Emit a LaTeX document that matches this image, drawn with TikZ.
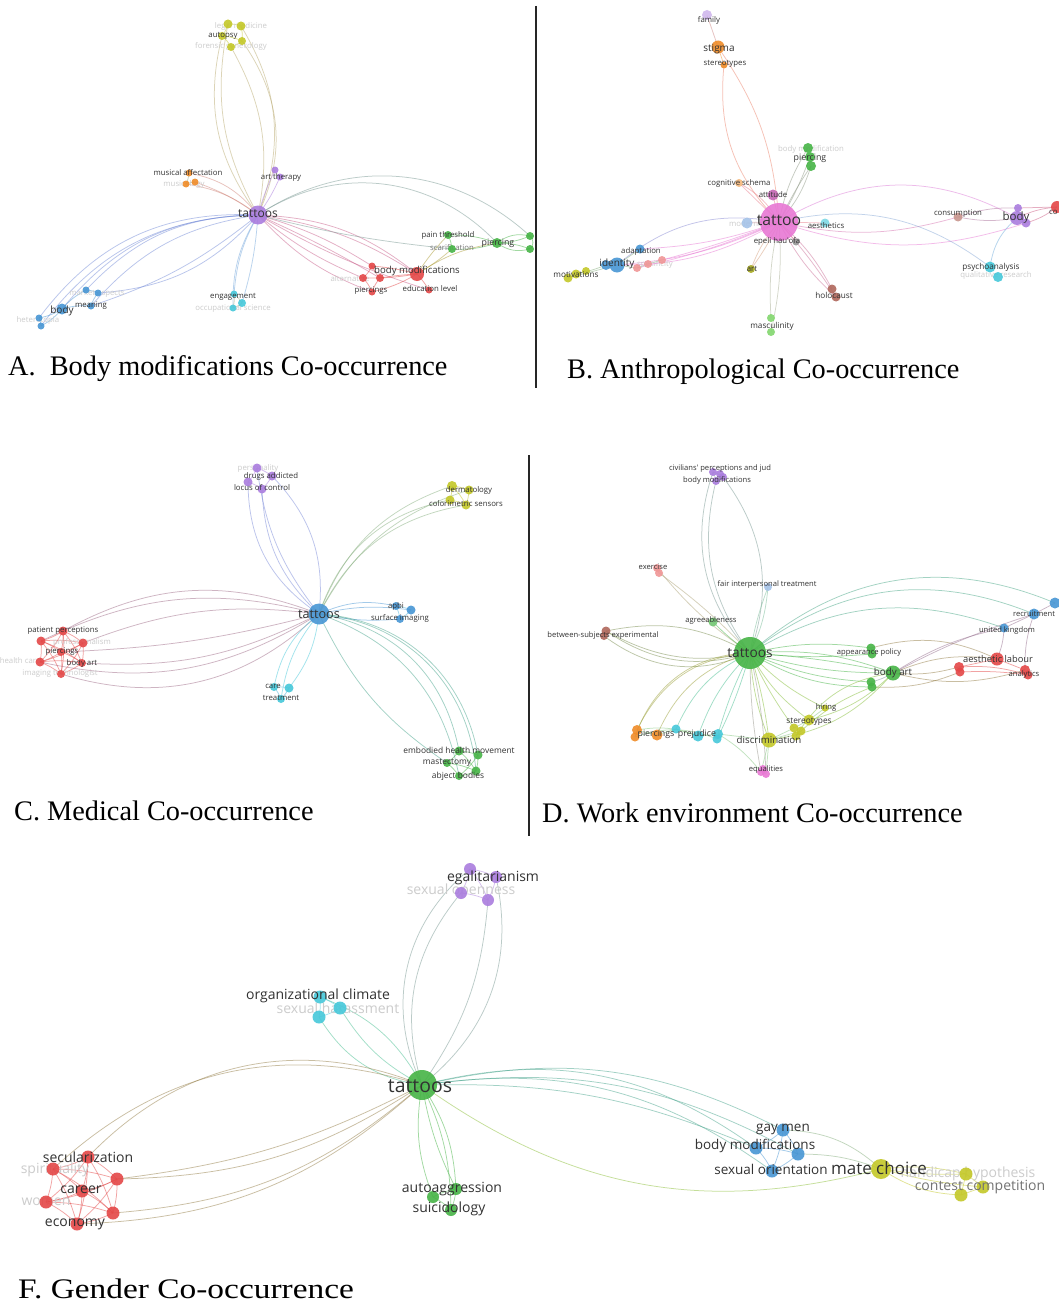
\documentclass[tikz,border=0pt]{standalone}
\usepackage{fontspec}
\setmainfont{Liberation Serif}
\newfontfamily\osans{Open Sans}
\usetikzlibrary{backgrounds}
\definecolor{vred}{RGB}{228,72,72}
\definecolor{vgreen}{RGB}{70,180,70}
\definecolor{vblue}{RGB}{72,150,212}
\definecolor{volive}{RGB}{196,200,40}
\definecolor{vpurple}{RGB}{170,125,222}
\definecolor{vcyan}{RGB}{70,200,218}
\definecolor{vorange}{RGB}{240,140,40}
\definecolor{vbrown}{RGB}{176,104,92}
\definecolor{vpink}{RGB}{232,120,212}
\definecolor{vsalmon}{RGB}{240,150,150}
\definecolor{vlblue}{RGB}{165,195,232}
\definecolor{vlgreen}{RGB}{130,215,110}
\definecolor{vgray}{RGB}{150,150,150}
\definecolor{labc}{RGB}{50,50,50}
\tikzset{
 bub/.style={circle,inner sep=0pt,draw=none,fill opacity=0.9},
 lab/.style={text=labc,inner sep=0pt},
 lgt/.style={text=black!20,inner sep=0pt},
 lmd/.style={text=black!55,inner sep=0pt},
 cedge/.style={line width=0.75pt,draw opacity=0.5},
 captxt/.style={anchor=base west,inner sep=0pt,font=\fontsize{28.3}{32}\selectfont},
 divider/.style={line width=1.4pt,black!85}
}
\newcommand\kwn[4]{\node[bub,fill=#3,minimum size=#4pt] (#1) at (#2) {};}
\newcommand\kwl[4][7.8]{\node[lab,font={\osans\fontsize{#1}{#1}\selectfont}] (#2) at (#3) {#4};}
\newcommand\kwg[4][7.8]{\node[lgt,font={\osans\fontsize{#1}{#1}\selectfont}] (#2) at (#3) {#4};}
\newcommand\kwm[4][7.8]{\node[lmd,font={\osans\fontsize{#1}{#1}\selectfont}] (#2) at (#3) {#4};}
\newcommand\kwe[4]{\draw[cedge,#4] (#1.center) to[bend left=#3] (#2.center);}
\begin{document}
\begin{tikzpicture}[x=1pt,y=-1pt]
\useasboundingbox (0,0) rectangle (1058,1311);
% ================= light labels (under bubbles) =================
\kwg{LyA1}{241,26}{legal medicine}
\kwg{LyA3}{231,46}{forensic gynecology}
\kwg{LoA2}{184,184}{musicology}
\kwg{LbA3}{97,293}{market aspects}
\kwg{LbA4}{38,320}{heterotopia}
\kwg{LcA2}{233,308}{occupational science}
\kwg{LrA7}{350,279}{alternative}
\kwm{LgA2}{452,248}{scarification}
\kwg{LgB1}{811,149}{body modification}
\kwg{LmB}{748,224}{modernity}
\kwg{LspB}{655,264}{specificity}
\kwg{LpsB2}{996,275}{qualitative research}
\kwg{LpC1}{258,468}{personality}
\kwg{LrC3}{82,642}{professionalism}
\kwg{LrC5}{20,661}{health care}
\kwg{LrC7}{60,673}{imaging technologist}
\kwg[14]{LpF3}{461,891}{sexual openness}
\kwg[14]{LcF2}{338,1008}{sexual harassment}
\kwg[14]{LrF2}{55,1170}{spirituality}
\kwg[14]{LrF5}{46,1202}{women}
\kwg[14]{LyF2}{968,1174}{handicap hypothesis}
% ================= Panel A bubbles =================
\kwn{tA}{258,215}{vpurple}{19}
\kwn{yA1}{228,24}{volive}{9}
\kwn{yA2}{241,26}{volive}{9}
\kwn{yA3}{222,36}{volive}{8}
\kwn{yA4}{242,41}{volive}{8}
\kwn{yA5}{231,47}{volive}{8}
\kwn{oA1}{189,173}{vorange}{7}
\kwn{oA2}{186,184}{vorange}{7}
\kwn{oA3}{195,182}{vorange}{7}
\kwn{pA1}{275,170}{vpurple}{7}
\kwn{pA2}{280,177}{vpurple}{7}
\kwn{bA1}{62,309}{vblue}{11}
\kwn{bA2}{91,306}{vblue}{7}
\kwn{bA3}{86,290}{vblue}{7}
\kwn{bA4}{98,293}{vblue}{7}
\kwn{bA5}{39,318}{vblue}{7}
\kwn{bA6}{41,326}{vblue}{7}
\kwn{cA1}{234,294}{vcyan}{7}
\kwn{cA2}{242,303}{vcyan}{8}
\kwn{cA3}{233,308}{vcyan}{7}
\kwn{rA1}{372,266}{vred}{7}
\kwn{rA2}{363,278}{vred}{8}
\kwn{rA3}{380,278}{vred}{8}
\kwn{rA4}{372,292}{vred}{7}
\kwn{rA5}{417,274}{vred}{14}
\kwn{rA6}{429,290}{vred}{7}
\kwn{gA1}{448,235}{vgreen}{8}
\kwn{gA2}{452,249}{vgreen}{8}
\kwn{gA3}{497,243}{vgreen}{10}
\kwn{gA4}{530,236}{vgreen}{8}
\kwn{gA5}{530,249}{vgreen}{8}
% ================= Panel B bubbles =================
\kwn{tB}{779,222}{vpink}{38}
\kwn{fB}{707,15}{vpurple!55}{10}
\kwn{sB1}{718,47}{vorange}{13}
\kwn{sB2}{724,65}{vorange}{7}
\kwn{gB1}{808,148}{vgreen}{10}
\kwn{gB2}{810,157}{vgreen}{10}
\kwn{gB3}{811,166}{vgreen}{10}
\kwn{cB}{739,183}{vorange!60}{8}
\kwn{aB}{773,195}{vpink!85!black}{11}
\kwn{eB}{825,223}{vcyan!70}{9}
\kwn{mB}{747,223}{vlblue}{11}
\kwn{hB}{796,242}{vgray}{7}
\kwn{adB}{640,249}{vblue}{9}
\kwn{iB2}{606,265}{vblue}{10}
\kwn{iB1}{617,265}{vblue}{15}
\kwn{spB1}{637,268}{vsalmon}{8}
\kwn{spB2}{648,264}{vsalmon}{8}
\kwn{spB3}{662,260}{vsalmon}{8}
\kwn{moB1}{568,278}{volive}{9}
\kwn{moB2}{576,274}{volive}{9}
\kwn{moB3}{586,271}{volive}{8}
\kwn{arB}{751,269}{volive!85!black}{8}
\kwn{hoB1}{832,289}{vbrown}{9}
\kwn{hoB2}{836,297}{vbrown}{9}
\kwn{maB1}{771,318}{vlgreen}{8}
\kwn{maB2}{771,332}{vlgreen}{8}
\kwn{coB}{958,217}{vbrown!70}{9}
\kwn{boB1}{1017,218}{vpurple}{14}
\kwn{boB2}{1018,208}{vpurple}{8}
\kwn{boB3}{1026,223}{vpurple}{9}
\kwn{rdB}{1057,207}{vred}{12}
\kwn{psB1}{990,267}{vcyan}{11}
\kwn{psB2}{998,277}{vcyan}{10}
% ================= Panel C bubbles =================
\kwn{tC}{319,614}{vblue}{21}
\kwn{pC1}{257,468}{vpurple}{9}
\kwn{pC2}{272,476}{vpurple}{9}
\kwn{pC3}{248,482}{vpurple}{9}
\kwn{pC4}{262,489}{vpurple}{9}
\kwn{yC1}{452,486}{volive}{10}
\kwn{yC2}{469,490}{volive}{9}
\kwn{yC3}{450,500}{volive}{9}
\kwn{yC4}{466,505}{volive}{9}
\kwn{bC1}{396,606}{vblue}{8}
\kwn{bC2}{411,610}{vblue}{9}
\kwn{bC3}{400,619}{vblue}{8}
\kwn{rC1}{63,631}{vred}{9}
\kwn{rC2}{41,641}{vred}{9}
\kwn{rC3}{83,643}{vred}{9}
\kwn{rC4}{61,652}{vred}{8}
\kwn{rC5}{40,662}{vred}{9}
\kwn{rC6}{82,663}{vred}{8}
\kwn{rC7}{61,674}{vred}{8}
\kwn{cC1}{274,687}{vcyan}{8}
\kwn{cC2}{289,688}{vcyan}{9}
\kwn{cC3}{281,699}{vcyan}{8}
\kwn{gC1}{459,751}{vgreen}{9}
\kwn{gC2}{478,755}{vgreen}{9}
\kwn{gC3}{447,763}{vgreen}{8}
\kwn{gC4}{476,771}{vgreen}{9}
\kwn{gC5}{459,776}{vgreen}{8}
% ================= Panel D bubbles =================
\kwn{tD}{750,653}{vgreen}{32}
\kwn{pD1}{713,472}{vpurple}{8}
\kwn{pD2}{723,477}{vpurple}{8}
\kwn{pD3}{716,481}{vpurple}{8}
\kwn{pD4}{720,474}{vpurple}{8}
\kwn{exD1}{657,568}{vsalmon}{8}
\kwn{exD2}{659,573}{vsalmon}{8}
\kwn{fD}{768,587}{vlblue}{8}
\kwn{agD}{713,622}{vgreen!75}{9}
\kwn{btD1}{606,631}{vbrown}{9}
\kwn{btD2}{604,636}{vbrown}{8}
\kwn{apD1}{871,648}{vgreen}{9}
\kwn{apD2}{872,654}{vgreen}{9}
\kwn{baD2}{871,682}{vgreen}{9}
\kwn{baD3}{872,687}{vgreen}{9}
\kwn{baD}{893,673}{vgreen}{15}
\kwn{reD1}{1034,614}{vblue}{11}
\kwn{reD2}{1055,603}{vblue}{11}
\kwn{ukD}{1004,628}{vblue}{9}
\kwn{alD2}{959,667}{vred}{10}
\kwn{alD3}{960,672}{vred}{9}
\kwn{alD1}{997,659}{vred}{13}
\kwn{anD1}{1025,670}{vred}{10}
\kwn{anD2}{1028,675}{vred}{9}
\kwn{hiD}{825,708}{volive}{7}
\kwn{stD1}{809,720}{volive}{11}
\kwn{stD2}{794,728}{volive}{9}
\kwn{stD3}{801,731}{volive}{9}
\kwn{stD4}{796,736}{volive}{9}
\kwn{diD}{769,740}{volive}{15}
\kwn{eqD1}{761,772}{vpink}{8}
\kwn{eqD2}{766,774}{vpink}{8}
\kwn{eqD3}{763,769}{vpink}{8}
\kwn{piD1}{637,730}{vorange}{10}
\kwn{piD3}{635,737}{vorange}{9}
\kwn{piD2}{657,735}{vorange}{11}
\kwn{prD1}{676,729}{vcyan}{9}
\kwn{prD2}{698,736}{vcyan}{11}
\kwn{prD3}{718,734}{vcyan}{10}
\kwn{prD4}{717,739}{vcyan}{9}
% ================= Panel F bubbles =================
\kwn{tF}{422,1085}{vgreen}{30}
\kwn{pF1}{470,869}{vpurple}{12}
\kwn{pF2}{496,877}{vpurple}{12}
\kwn{pF3}{461,893}{vpurple}{12}
\kwn{pF4}{488,900}{vpurple}{12}
\kwn{cF1}{320,997}{vcyan}{13}
\kwn{cF2}{340,1008}{vcyan}{13}
\kwn{cF3}{319,1017}{vcyan}{13}
\kwn{rF1}{88,1157}{vred}{13}
\kwn{rF2}{53,1169}{vred}{13}
\kwn{rF3}{117,1179}{vred}{13}
\kwn{rF4}{82,1191}{vred}{13}
\kwn{rF5}{46,1202}{vred}{13}
\kwn{rF6}{113,1213}{vred}{13}
\kwn{rF7}{77,1224}{vred}{13}
\kwn{gF1}{433,1197}{vgreen}{12}
\kwn{gF2}{456,1189}{vgreen}{12}
\kwn{gF3}{451,1210}{vgreen}{12}
\kwn{bF1}{783,1130}{vblue}{13}
\kwn{bF2}{756,1148}{vblue}{13}
\kwn{bF3}{798,1154}{vblue}{13}
\kwn{bF4}{772,1171}{vblue}{13}
\kwn{yF1}{881,1169}{volive}{20}
\kwn{yF2}{966,1174}{volive}{13}
\kwn{yF3}{983,1187}{volive}{13}
\kwn{yF4}{961,1195}{volive}{13}
% ================= dark labels =================
% A
\kwl[12]{LtA}{258,214}{tattoos}
\kwl{LyA2}{223,36}{autopsy}
\kwl{LoA1}{188,173}{musical affectation}
\kwl{LpA}{281,177}{art therapy}
\kwl[10]{LbA1}{62,311}{body}
\kwl{LbA2}{91,306}{meaning}
\kwl{LcA1}{233,297}{engagement}
\kwl[9.6]{LrA5}{417,271}{body modifications}
\kwl{LrA4}{371,291}{piercings}
\kwl{LrA6}{430,289}{education level}
\kwl{LgA1}{448,235}{pain threshold}
\kwl[8.8]{LgA3}{498,243}{piercing}
% B
\kwl[15.7]{LtB}{779,220}{tattoo}
\kwl{LfB}{709,20}{family}
\kwl[10]{LsB1}{719,49}{stigma}
\kwl{LsB2}{725,64}{stereotypes}
\kwl[8.8]{LgB2}{810,158}{piercing}
\kwl{LcB}{739,183}{cognitive schema}
\kwl{LaB}{773,195}{attitude}
\kwl{LeB}{826,226}{aesthetics}
\kwl{LhB}{777,241}{epeli hau'ofa}
\kwl{LadB}{641,251}{adaptation}
\kwl[10]{LiB}{617,264}{identity}
\kwl[8.2]{LmoB}{576,275}{motivations}
\kwl{LarB}{752,269}{art}
\kwl[8.2]{LhoB}{834,295}{holocaust}
\kwl[8.2]{LmaB}{772,326}{masculinity}
\kwl{LcoB}{958,214}{consumption}
\kwl[11.5]{LboB}{1016,218}{body}
\node[lab,anchor=west,font={\osans\fontsize{7.8}{7.8}\selectfont}] (LrdB) at (1049,212) {co};
\kwl[8.2]{LpsB}{991,267}{psychoanalysis}
% C
\kwl[12.7]{LtC}{319,614}{tattoos}
\kwl{LpC2}{271,476}{drugs addicted}
\kwl{LpC4}{262,488}{locus of control}
\kwl{LyC1}{469,490}{dermatology}
\kwl{LyC3}{466,504}{colorimetric sensors}
\kwl{LbC1}{396,606}{apbi}
\kwl{LbC3}{400,618}{surface imaging}
\kwl{LrC1}{63,631}{patient perceptions}
\kwl{LrC4}{62,652}{piercings}
\kwl{LrC6}{82,663}{body art}
\kwl{LcC1}{273,686}{care}
\kwl{LcC3}{281,698}{treatment}
\kwl[8.4]{LgC1}{459,750}{embodied health movement}
\kwl[8.4]{LgC3}{447,763}{mastectomy}
\kwl[8.4]{LgC5}{458,776}{abject bodies}
% D
\kwl[13.7]{LtD}{750,653}{tattoos}
\kwl[7.6]{LpD1}{720,469}{civilians' perceptions and jud}
\kwl[7.6]{LpD3}{717,481}{body modifications}
\kwl[7.6]{LexD}{653,567}{exercise}
\kwl[7.6]{LfD}{767,584}{fair interpersonal treatment}
\kwl[7.6]{LagD}{711,621}{agreeableness}
\kwl[7.6]{LbtD}{603,636}{between-subjects experimental}
\kwl[7.6]{LapD}{869,653}{appearance policy}
\kwl[9.8]{LbaD}{893,673}{body art}
\kwl[7.6]{LreD}{1034,614}{recruitment}
\kwl[7.6]{LukD}{1007,631}{united kingdom}
\kwl[9.3]{LalD}{998,659}{aesthetic labour}
\kwl[7.6]{LanD}{1024,675}{analytics}
\kwl[7.6]{LhiD}{826,708}{hiring}
\kwl[8.3]{LstD}{809,722}{stereotypes}
\kwl[9.7]{LdiD}{769,740}{discrimination}
\kwl[7.6]{LeqD}{766,770}{equalities}
\kwl[8.8]{LpiD}{656,734}{piercings}
\kwl[8.8]{LprD}{697,734}{prejudice}
% F
\kwl[19.4]{LtF}{420,1086}{tattoos}
\kwl[14]{LpF}{493,878}{egalitarianism}
\kwl[14]{LcF}{318,996}{organizational climate}
\kwl[14]{LrF1}{88,1157}{secularization}
\kwl[14]{LrF4}{81,1190}{career}
\kwl[14]{LrF7}{75,1224}{economy}
\kwl[14]{LgF2}{452,1189}{autoaggression}
\kwl[14]{LgF3}{449,1209}{suicidology}
\kwl[13.5]{LbF1}{783,1129}{gay men}
\kwl[13.5]{LbF2}{755,1146}{body modifications}
\kwl[13.5]{LbF4}{771,1169}{sexual orientation}
\kwl[17]{LyF1}{879,1168}{mate choice}
\kwm[14]{LyF3}{980,1187}{contest competition}
% ================= captions and dividers =================
\node[captxt] (capA) at (8,375) {A.\ \ Body modifications Co-occurrence};
\node[captxt] (capB) at (567,378) {B. Anthropological Co-occurrence};
\node[captxt] (capC) at (14,820) {C. Medical Co-occurrence};
\node[captxt] (capD) at (542,822) {D. Work environment Co-occurrence};
\node[captxt] (capF) at (18,1298) {\scalebox{1.18}[1]{F. Gender Co-occurrence}};
\coordinate (dAt) at (536,6); \coordinate (dAb) at (536,388);
\coordinate (dCt) at (529,455); \coordinate (dCb) at (529,836);
\draw[divider] (dAt) -- (dAb);
\draw[divider] (dCt) -- (dCb);
% ================= connectors =================
\begin{pgfonlayer}{background}
\fill[white] (0,0) rectangle (1058,1311);
% ---- A
\foreach \n/\b in {yA3/25,yA1/20,yA5/-20,yA2/-26,yA4/-30}{\kwe{tA}{\n}{\b}{volive!60!vpurple}}
\foreach \n/\b in {oA1/-20,oA2/-14,oA3/-8}{\kwe{tA}{\n}{\b}{vorange!55!vpurple}}
\foreach \n/\b in {pA1/5,pA2/-6}{\kwe{tA}{\n}{\b}{vpurple}}
\foreach \n/\b in {bA1/-25,bA2/-20,bA3/-23,bA5/-28,bA6/-26,bA4/22,bA2/10}{\kwe{tA}{\n}{\b}{vblue!55!vpurple}}
\foreach \n/\b in {cA1/-12,cA3/-16,cA2/6}{\kwe{tA}{\n}{\b}{vcyan!55!vpurple}}
\foreach \n/\b in {rA5/12,rA5/18,rA1/8,rA2/-8,rA4/-13,rA3/3,rA6/-6}{\kwe{tA}{\n}{\b}{vred!55!vpurple}}
\foreach \n/\b in {gA3/40,gA4/38,gA2/-4}{\kwe{tA}{\n}{\b}{vgreen!50!vpurple}}
\foreach \a/\b/\c in {gA1/gA3/10,gA2/gA3/-10,gA3/gA4/25,gA3/gA5/-25,gA4/gA5/50,gA1/gA2/10,gA3/gA4/-10,gA3/gA5/10}{\kwe{\a}{\b}{\c}{vgreen}}
\foreach \a/\b/\c in {rA5/gA1/5,rA5/gA2/-5,rA5/gA3/12}{\kwe{\a}{\b}{\c}{vorange!60!vgreen}}
\foreach \a/\b/\c in {rA1/rA5/5,rA2/rA5/-5,rA3/rA5/3,rA4/rA5/-8,rA5/rA6/5,rA1/rA2/10,rA2/rA4/10,rA3/rA4/-10,rA1/rA3/-10}{\kwe{\a}{\b}{\c}{vred}}
\foreach \a/\b/\c in {yA1/yA2/10,yA3/yA4/10,yA1/yA3/10,yA2/yA4/10,yA4/yA5/10,yA3/yA5/10}{\kwe{\a}{\b}{\c}{volive}}
\foreach \a/\b/\c in {bA1/bA2/10,bA1/bA3/10,bA2/bA4/10,bA1/bA5/10,bA5/bA6/10,bA1/bA6/10,bA3/bA4/10}{\kwe{\a}{\b}{\c}{vblue}}
\foreach \a/\b/\c in {cA1/cA2/10,cA2/cA3/10,cA1/cA3/10,oA1/oA2/10,oA2/oA3/10}{\kwe{\a}{\b}{\c}{vcyan!50!vorange}}
% ---- B
\kwe{tB}{sB2}{25}{vorange!60!vpink}
\kwe{tB}{sB1}{-15}{vorange!60!vpink}
\kwe{sB1}{fB}{0}{vorange!50!vpurple}
\kwe{sB1}{sB2}{0}{vorange}
\foreach \n/\b in {gB1/10,gB2/-5,gB3/-12,gB3/4}{\kwe{tB}{\n}{\b}{vgreen!55!vpink}}
\foreach \n/\b in {cB/0,aB/0,eB/0,mB/0,hB/0,cB/-15}{\kwe{tB}{\n}{\b}{vpink!60!vorange}}
\kwe{tB}{boB1}{30}{vpink!80!vpurple}
\kwe{tB}{coB}{-14}{vpink!70!vbrown}
\kwe{tB}{boB3}{-18}{vpink}
\kwe{tB}{psB1}{25}{vcyan!60!vpink}
\kwe{boB1}{psB1}{-20}{vcyan!60!vpurple}
\kwe{boB1}{coB}{10}{vbrown!50!vpurple}
\kwe{boB2}{coB}{-10}{vbrown!50!vpurple}
\foreach \n/\b in {boB1/10,boB2/0,boB3/-10}{\kwe{\n}{rdB}{\b}{vred!60!vpurple}}
\kwe{tB}{iB1}{-25}{vblue!60!vpink}
\foreach \n/\b in {adB/8,iB1/10,spB1/5,iB2/15,spB3/3}{\kwe{tB}{\n}{\b}{vpink}}
\foreach \a/\b/\c in {iB1/moB1/0,iB2/moB2/5,iB1/adB/0,iB1/spB1/0,iB1/iB2/0,moB1/moB2/0,moB2/moB3/0,spB1/spB2/0,spB2/spB3/0}{\kwe{\a}{\b}{\c}{volive!50!vblue}}
\foreach \n/\b in {arB/5,arB/-10}{\kwe{tB}{\n}{\b}{volive!50!vpink}}
\foreach \n/\b in {maB1/-8,maB2/8}{\kwe{tB}{\n}{\b}{vlgreen!60!vpink}}
\foreach \n/\b in {hoB1/10,hoB2/-10,hoB2/4}{\kwe{tB}{\n}{\b}{vbrown!50!vpink}}
% ---- C
\foreach \n/\b in {pC3/28,pC4/22,pC1/15,pC2/-25}{\kwe{tC}{\n}{\b}{vpurple!50!vblue}}
\foreach \n/\b in {yC1/25,yC2/22,yC3/30,yC4/27}{\kwe{tC}{\n}{\b}{volive!50!vblue}}
\foreach \n/\b in {bC1/18,bC2/10,bC3/-8}{\kwe{tC}{\n}{\b}{vblue}}
\foreach \n/\b in {rC1/-25,rC2/-20,rC3/-14,rC7/30,rC5/22,rC6/15,rC4/6}{\kwe{tC}{\n}{\b}{vred!55!vblue}}
\foreach \n/\b in {cC1/-20,cC3/-15,cC2/15}{\kwe{tC}{\n}{\b}{vcyan}}
\foreach \n/\b in {gC1/35,gC2/38,gC4/40,gC5/30,gC3/-15}{\kwe{tC}{\n}{\b}{vgreen!50!vblue}}
\foreach \i in {1,...,6}{\pgfmathtruncatemacro\ip{\i+1}\foreach \j in {\ip,...,7}{\kwe{rC\i}{rC\j}{8}{vred}}}
\foreach \a/\b in {gC1/gC2,gC1/gC3,gC2/gC4,gC3/gC5,gC4/gC5,gC1/gC4,gC3/gC4,gC2/gC5}{\kwe{\a}{\b}{8}{vgreen}}
\foreach \a/\b in {yC1/yC2,yC1/yC3,yC2/yC4,yC3/yC4,yC1/yC4}{\kwe{\a}{\b}{8}{volive}}
\foreach \a/\b in {pC1/pC2,pC1/pC3,pC2/pC4,pC3/pC4}{\kwe{\a}{\b}{8}{vpurple}}
\foreach \a/\b in {bC1/bC2,bC2/bC3,bC1/bC3,cC1/cC2,cC2/cC3,cC1/cC3}{\kwe{\a}{\b}{8}{vblue!50!vcyan}}
% ---- D
\foreach \n/\b in {pD1/30,pD3/25,pD2/-28}{\kwe{tD}{\n}{\b}{vpurple!50!vgreen}}
\foreach \n/\b in {exD1/8,exD2/-5}{\kwe{tD}{\n}{\b}{vsalmon!60!vgreen}}
\foreach \n/\b in {fD/5,fD/-10}{\kwe{tD}{\n}{\b}{vlblue!50!vgreen}}
\kwe{tD}{agD}{5}{vgreen}
\foreach \n/\b in {btD1/25,btD2/30,btD1/20,btD1/-20}{\kwe{tD}{\n}{\b}{vbrown!50!vgreen}}
\foreach \n/\b in {reD1/30,reD2/32,ukD/25}{\kwe{tD}{\n}{\b}{vblue!45!vgreen}}
\foreach \n/\b in {apD1/10,apD2/-5,baD/12,baD/-8,baD2/-10,baD3/-15,baD/4}{\kwe{tD}{\n}{\b}{vgreen}}
\foreach \a/\b/\c in {baD/alD1/15,baD/alD2/-10,baD/anD1/-15,apD1/alD1/20,baD3/alD3/-12}{\kwe{\a}{\b}{\c}{vred!50!vgreen}}
\foreach \a/\b/\c in {baD/ukD/10,baD/reD1/5,ukD/reD1/0,reD1/reD2/0,ukD/alD1/10,reD1/anD1/-10}{\kwe{\a}{\b}{\c}{vblue!50!vred}}
\foreach \a/\b/\c in {alD1/anD1/0,alD1/alD2/0,alD2/anD2/10,alD3/anD2/5}{\kwe{\a}{\b}{\c}{vred}}
\foreach \n/\b in {hiD/-10,stD1/-12,stD2/-5,diD/5,diD/-8}{\kwe{tD}{\n}{\b}{volive!50!vgreen}}
\foreach \n/\b in {eqD1/-5,eqD2/5}{\kwe{tD}{\n}{\b}{vpink!50!vgreen}}
\foreach \n/\b in {piD1/-30,piD2/-25,piD3/-35}{\kwe{tD}{\n}{\b}{vorange!50!vgreen}}
\foreach \n/\b in {prD1/-20,prD2/-12,prD3/-5,prD4/5}{\kwe{tD}{\n}{\b}{vcyan!50!vgreen}}
\foreach \a/\b/\c in {piD1/piD2/0,piD2/prD1/0,prD1/prD2/0,prD2/prD3/0,prD3/diD/0,diD/stD2/0,diD/stD3/0,stD1/stD2/0,stD3/stD4/0,stD1/hiD/0,diD/eqD1/0,diD/eqD2/0,eqD1/eqD2/0,piD1/prD2/15,prD3/eqD1/10,piD3/prD4/20}{\kwe{\a}{\b}{\c}{volive!50!vcyan}}
\foreach \a/\b/\c in {baD/stD1/15,baD/diD/20,baD3/stD3/-10,baD/stD4/-25}{\kwe{\a}{\b}{\c}{volive!50!vgreen}}
\foreach \a/\b in {btD1/btD2,exD1/exD2,pD1/pD2,pD2/pD3,pD1/pD3,pD4/pD2,apD1/apD2,baD2/baD3,baD/baD2}{\kwe{\a}{\b}{8}{vgreen!50!vpurple}}
% ---- F
\foreach \n/\b in {pF1/38,pF3/28,pF4/-15,pF2/-32}{\kwe{tF}{\n}{\b}{vpurple!50!vgreen}}
\foreach \n/\b in {cF3/25,cF2/15,cF1/-20}{\kwe{tF}{\n}{\b}{vcyan!50!vgreen}}
\foreach \n/\b in {rF1/-34,rF2/-30,rF3/16,rF3/10,rF6/18,rF7/20}{\kwe{tF}{\n}{\b}{vred!50!vgreen}}
\foreach \n/\b in {gF1/-15,gF2/-8,gF3/12,gF2/15}{\kwe{tF}{\n}{\b}{vgreen}}
\foreach \n/\b in {bF2/25,bF4/22,bF1/20,bF3/18,bF2/12}{\kwe{tF}{\n}{\b}{vblue!50!vgreen}}
\kwe{tF}{yF1}{-25}{volive!55!vgreen}
\kwe{bF1}{yF1}{20}{volive!50!vblue}
\kwe{bF3}{yF1}{10}{volive!50!vblue}
\foreach \a/\b/\c in {yF1/yF2/10,yF1/yF3/-5,yF1/yF4/-15,yF2/yF3/0,yF3/yF4/0,yF2/yF4/0,yF1/yF2/-5}{\kwe{\a}{\b}{\c}{volive}}
\foreach \a/\b in {bF1/bF2,bF1/bF3,bF2/bF3,bF2/bF4,bF3/bF4,bF1/bF4}{\kwe{\a}{\b}{8}{vblue}}
\foreach \i in {1,...,6}{\pgfmathtruncatemacro\ip{\i+1}\foreach \j in {\ip,...,7}{\kwe{rF\i}{rF\j}{8}{vred}}}
\foreach \a/\b in {gF1/gF2,gF2/gF3,gF1/gF3}{\kwe{\a}{\b}{8}{vgreen}}
\foreach \a/\b in {pF1/pF2,pF1/pF3,pF2/pF4,pF3/pF4,pF1/pF4}{\kwe{\a}{\b}{8}{vpurple}}
\foreach \a/\b in {cF1/cF2,cF2/cF3,cF1/cF3}{\kwe{\a}{\b}{8}{vcyan}}
\end{pgfonlayer}
\end{tikzpicture}
\end{document}
